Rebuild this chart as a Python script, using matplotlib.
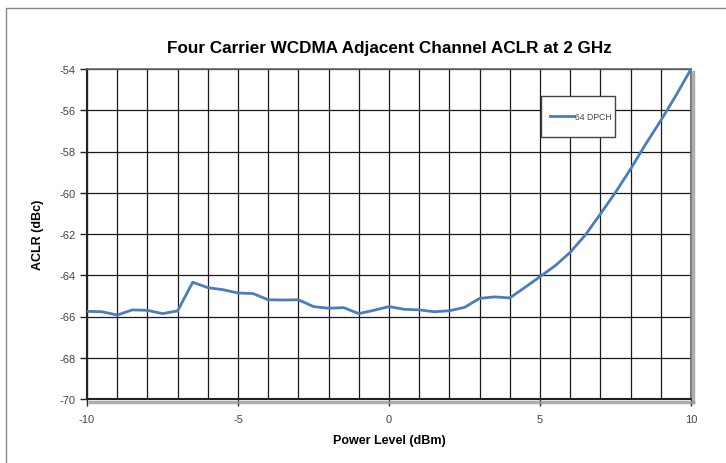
import matplotlib
matplotlib.use("Agg")
import matplotlib.pyplot as plt
from matplotlib.lines import Line2D
from matplotlib.patches import Rectangle
from matplotlib.ticker import MultipleLocator

plt.rcParams["font.family"] = ["Liberation Sans Narrow", "Liberation Sans", "DejaVu Sans"]
plt.rcParams["axes.unicode_minus"] = False

power_dbm = [-10, -9.5, -9, -8.5, -8, -7.5, -7, -6.5, -6, -5.5, -5, -4.5, -4, -3.5,
             -3, -2.5, -2, -1.5, -1, -0.5, 0, 0.5, 1, 1.5, 2, 2.5, 3, 3.5, 4, 4.5,
             5, 5.5, 6, 6.5, 7, 7.5, 8, 8.5, 9, 9.5, 10]
aclr_64dpch = [-65.75, -65.77, -65.93, -65.68, -65.70, -65.86, -65.73, -64.34, -64.60,
               -64.70, -64.86, -64.89, -65.19, -65.20, -65.19, -65.52, -65.60, -65.57,
               -65.86, -65.70, -65.52, -65.65, -65.68, -65.77, -65.72, -65.56, -65.12,
               -65.05, -65.10, -64.59, -64.07, -63.54, -62.89, -62.05, -61.03, -59.98,
               -58.85, -57.64, -56.50, -55.29, -54.0]
x_ticks = [-10, -5, 0, 5, 10]
y_ticks = [-70, -68, -66, -64, -62, -60, -58, -56, -54]

fig = plt.figure(figsize=(7.26, 4.64), dpi=100)
ax = fig.add_axes([87 / 726, 1 - 400 / 464, 604 / 726, 330 / 464])

ax.plot(power_dbm, aclr_64dpch, color="#4a7ebb", linewidth=2.0, label="64 DPCH",
        zorder=3)

ax.set_xlim(-10, 10)
ax.set_ylim(-70, -54)
ax.set_xticks(x_ticks)
ax.set_yticks(y_ticks)
ax.xaxis.set_minor_locator(MultipleLocator(1))
ax.grid(which="major", axis="y", color="#1a1a1a", linewidth=0.9)
ax.grid(which="both", axis="x", color="#1a1a1a", linewidth=0.9)
ax.tick_params(axis="x", which="minor", length=0)
ax.tick_params(axis="both", which="major", length=5, width=1, color="#222222",
               labelsize=8, labelcolor="#444444")
ax.tick_params(axis="x", pad=6)
ax.tick_params(axis="y", pad=3)
for side in ["top", "right"]:
    ax.spines[side].set_color("#666666")
    ax.spines[side].set_linewidth(1.2)
for side in ["left", "bottom"]:
    ax.spines[side].set_color("#222222")
    ax.spines[side].set_linewidth(1.5)

ax.set_title("Four Carrier WCDMA Adjacent Channel ACLR at 2 GHz",
             fontsize=12.3, fontweight="bold", pad=12)
ax.set_xlabel("Power Level (dBm)", fontsize=9, fontweight="bold", labelpad=7)
ax.set_ylabel("ACLR (dBc)", fontsize=9, fontweight="bold", labelpad=11)

# legend box drawn separately so its padding matches the original
ax.add_patch(Rectangle(((541 - 87) / 604, 1 - (138 - 70) / 330), 74 / 604, 41 / 330,
                       transform=ax.transAxes, facecolor="white", edgecolor="#444444",
                       linewidth=1.0, zorder=4))
leg = ax.legend(loc="center left",
                bbox_to_anchor=((550 - 87) / 604, 1 - (117.5 - 70) / 330),
                fontsize=6.2, frameon=False, borderpad=0, borderaxespad=0,
                handlelength=2.8, handletextpad=0.15)
leg.set_zorder(5)
for t in leg.get_texts():
    t.set_color("#444444")

# drop shadow along right and bottom of the plot area
fig.add_artist(Line2D([693 / 726, 693 / 726], [1 - 73 / 464, 1 - 403 / 464],
                      color="#999999", linewidth=2.5, alpha=0.8))
fig.add_artist(Line2D([90 / 726, 693 / 726], [1 - 402.5 / 464, 1 - 402.5 / 464],
                      color="#999999", linewidth=2.5, alpha=0.8))

# outer frame (left and top edges visible)
fig.add_artist(Line2D([5.5 / 726, 5.5 / 726, 726 / 726], [0, 1 - 8.5 / 464, 1 - 8.5 / 464],
                      color="#888888", linewidth=1.0))

fig.savefig("out.png", dpi=100)
